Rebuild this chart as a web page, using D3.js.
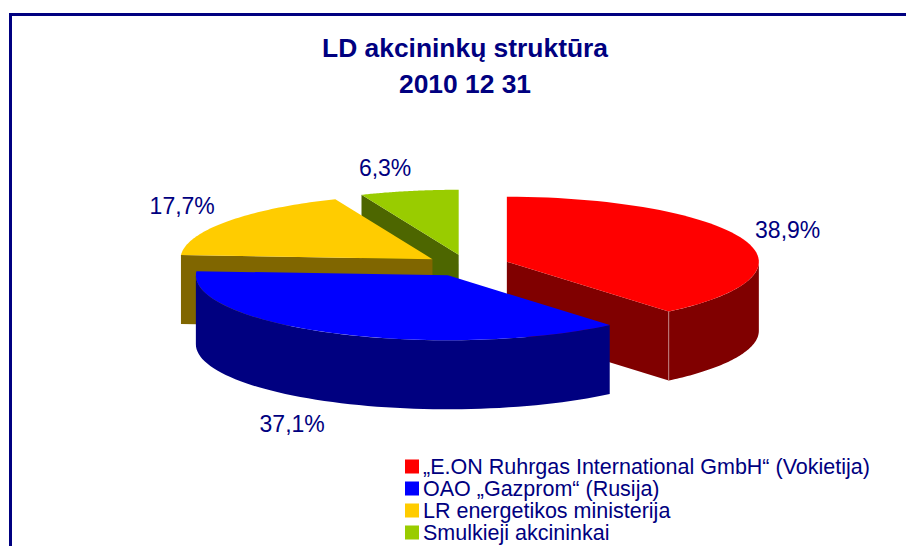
<!DOCTYPE html>
<html>
<head>
<meta charset="utf-8">
<script src="https://cdn.jsdelivr.net/npm/d3@7"></script>
<style>
  html, body { margin: 0; padding: 0; background: #fff; }
  svg { display: block; }
  text { font-family: "Liberation Sans", Arial, sans-serif; fill: #000080; }
</style>
</head>
<body>
<svg id="chart" width="906" height="546"></svg>
<script>
// data
const titleLines = ["LD akcininkų struktūra", "2010 12 31"];
const categories = ["„E.ON Ruhrgas International GmbH“ (Vokietija)", "OAO „Gazprom“ (Rusija)", "LR energetikos ministerija", "Smulkieji akcininkai"];
const shares = [38.9, 37.1, 17.7, 6.3];
const shareLabels = ["38,9%", "37,1%", "17,7%", "6,3%"];
const topColors = ["#ff0000", "#0000ff", "#ffcc00", "#99cc00"];
const wallColors = ["#800000", "#000080", "#806600", "#4d6600"];

// layout
const pieX = 467, pieY = 265.5;
const rx = 252, ry = 65, depth = 69, explode = 42.4;
const labelNudge = [[44, -10], [-42, 91], [-45, -15], [-24, -23]];

const svg = d3.select("#chart");

// frame, only top and left are inside the picture
svg.append("path")
	.attr("d", "M10.5,546V14.5H906")
	.attr("fill", "none")
	.attr("stroke", "#000080")
	.attr("stroke-width", 3);

// title
svg.append("g").selectAll("text")
	.data(titleLines)
	.join("text")
	.attr("x", 465)
	.attr("y", (d, i) => 57 + i * 36)
	.attr("text-anchor", "middle")
	.attr("font-size", 26.4)
	.attr("font-weight", "bold")
	.text(d => d);

const color = d3.scaleOrdinal().domain(categories).range(topColors);
const wallColor = d3.scaleOrdinal().domain(categories).range(wallColors);

const arcs = d3.pie().sort(null).value(d => d.share)(
	categories.map((name, i) => ({ name, share: shares[i], label: shareLabels[i], nudge: labelNudge[i] }))
);

// each slice is pulled out along its middle angle
arcs.forEach(a => {
	a.mid = (a.startAngle + a.endAngle) / 2;
	a.cx = pieX + explode * Math.sin(a.mid);
	a.cy = pieY - explode * (ry / rx) * Math.cos(a.mid);
});

const rim = (a, angle) => [a.cx + rx * Math.sin(angle), a.cy - ry * Math.cos(angle)];
const sample = (from, to) => d3.range(0, 61).map(i => from + (to - from) * i / 60);
const line = d3.line();
const drop = p => [p[0], p[1] + depth];

// back to front
const ordered = arcs.slice().sort((p, q) => d3.ascending(p.cy, q.cy));

const slices = svg.append("g").selectAll("g")
	.data(ordered)
	.join("g");

slices.each(function (a) {
	const g = d3.select(this);
	const apex = [a.cx, a.cy];
	const wall = wallColor(a.data.name);

	// cut faces that look towards the viewer
	[a.startAngle, a.endAngle].forEach((angle, i) => {
		const s = Math.sin(angle);
		if ((i === 0 && s < -0.001) || (i === 1 && s > 0.001)) {
			const p = rim(a, angle);
			g.append("path")
				.attr("d", line([apex, p, drop(p), drop(apex)]) + "Z")
				.attr("fill", wall);
		}
	});

	// outer wall, front half only
	const from = Math.max(a.startAngle, Math.PI / 2);
	const to = Math.min(a.endAngle, Math.PI * 1.5);
	if (to > from) {
		const upper = sample(from, to).map(t => rim(a, t));
		g.append("path")
			.attr("d", line(upper.concat(upper.slice().reverse().map(drop))) + "Z")
			.attr("fill", wall);
	}

	// top face
	const top = [apex].concat(sample(a.startAngle, a.endAngle).map(t => rim(a, t)));
	g.append("path")
		.attr("d", line(top) + "Z")
		.attr("fill", color(a.data.name));
});

// pale seam where the red cut face meets its rim
const redEnd = rim(arcs[0], arcs[0].endAngle);
svg.append("path")
	.attr("d", line([redEnd, drop(redEnd)]))
	.attr("stroke", "#c08080")
	.attr("stroke-width", 1)
	.attr("fill", "none");

// value labels
svg.append("g").selectAll("text")
	.data(arcs)
	.join("text")
	.attr("x", a => rim(a, a.mid)[0] + a.data.nudge[0])
	.attr("y", a => rim(a, a.mid)[1] + a.data.nudge[1] + 8)
	.attr("text-anchor", "middle")
	.attr("font-size", 23)
	.text(a => a.data.label);

// legend
const legendY = d3.scalePoint().domain(categories).range([459.5, 525.5]);
const legend = svg.append("g").selectAll("g")
	.data(categories)
	.join("g")
	.attr("transform", d => `translate(405,${legendY(d)})`);
legend.append("rect")
	.attr("width", 14)
	.attr("height", 14)
	.attr("fill", d => color(d));
legend.append("text")
	.attr("x", 18)
	.attr("y", 14)
	.attr("font-size", 21.5)
	.text(d => d);
</script>
</body>
</html>
